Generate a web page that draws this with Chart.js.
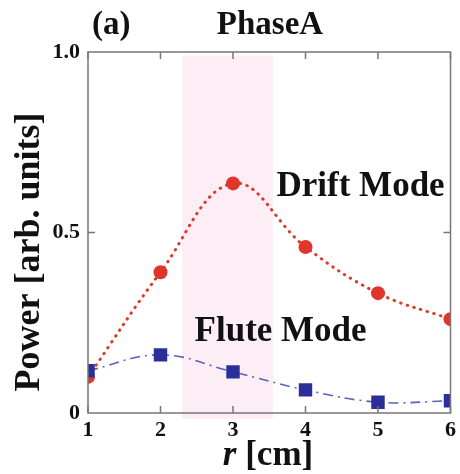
<!DOCTYPE html>
<html>
<head>
<meta charset="utf-8">
<script src="https://cdn.jsdelivr.net/npm/chart.js@4/dist/chart.umd.min.js"></script>
<style>
  html, body { margin: 0; padding: 0; background: #fff; }
  #wrap { width: 460px; height: 474px; }
</style>
</head>
<body>
<div id="wrap"><canvas id="myChart" width="460" height="474"></canvas></div>
<script>
// values
const radius = [1, 2, 3, 4, 5, 6];
const driftPower = [0.10, 0.39, 0.636, 0.46, 0.332, 0.26];
const flutePower = [0.117, 0.161, 0.114, 0.064, 0.030, 0.034];
const yTickValues = [0, 0.5, 1.0];
const yTickLabels = ['0', '0.5', '1.0'];
const bandX = [2.3, 3.55];
const bandY = [-0.017, 0.99];

const serif = "'Liberation Serif', 'Times New Roman', serif";
const frameColor = '#777';

let ctx = document.getElementById('myChart').getContext('2d');

// pink band, frame, inward ticks and text labels
const decorations = {
    id: 'decorations',
    beforeDatasetsDraw(chart) {
        const c = chart.ctx;
        const x = chart.scales.x, y = chart.scales.y;
        c.save();
        c.fillStyle = '#fdedf4';
        const x0 = x.getPixelForValue(bandX[0]), x1 = x.getPixelForValue(bandX[1]);
        const y0 = y.getPixelForValue(bandY[1]), y1 = y.getPixelForValue(bandY[0]);
        c.fillRect(x0, y0, x1 - x0, y1 - y0);
        c.restore();
    },
    afterDatasetsDraw(chart) {
        const c = chart.ctx;
        const a = chart.chartArea;
        const x = chart.scales.x, y = chart.scales.y;
        c.save();
        c.strokeStyle = frameColor;
        c.lineWidth = 1.5;
        c.strokeRect(a.left, a.top, a.right - a.left, a.bottom - a.top);
        c.beginPath();
        radius.forEach(v => {
            const px = x.getPixelForValue(v);
            c.moveTo(px, a.bottom); c.lineTo(px, a.bottom - 7);
            c.moveTo(px, a.top); c.lineTo(px, a.top + 7);
        });
        const py = y.getPixelForValue(0.5);
        c.moveTo(a.left, py); c.lineTo(a.left + 7, py);
        c.moveTo(a.right, py); c.lineTo(a.right - 7, py);
        c.stroke();

        c.fillStyle = '#111';
        c.textBaseline = 'middle';
        c.textAlign = 'left';
        c.font = 'bold 35px ' + serif;
        c.fillText('Drift Mode', x.getPixelForValue(3.6), y.getPixelForValue(0.626));
        c.fillText('Flute Mode', x.getPixelForValue(2.47), y.getPixelForValue(0.224));

        // title row
        c.textBaseline = 'alphabetic';
        c.font = 'bold 33px ' + serif;
        c.fillText('(a)', 92, 34);
        c.textAlign = 'center';
        c.fillText('PhaseA', 270, 34);

        // x axis title, italic r
        c.textAlign = 'left';
        c.font = 'italic bold 35px ' + serif;
        const w1 = c.measureText('r ').width;
        c.font = 'bold 35px ' + serif;
        const w2 = c.measureText('[cm]').width;
        const sx = 268 - (w1 + w2) / 2;
        c.font = 'italic bold 35px ' + serif;
        c.fillText('r ', sx, 465);
        c.font = 'bold 35px ' + serif;
        c.fillText('[cm]', sx + w1, 465);

        // y axis title
        c.translate(30, 252);
        c.rotate(-Math.PI / 2);
        c.textAlign = 'center';
        c.textBaseline = 'middle';
        c.font = 'bold 36px ' + serif;
        c.fillText('Power [arb. units]', 0, 0);
        c.restore();
    }
};

const data = {
    labels: radius,
    datasets: [{
        label: 'Flute Mode',
        data: flutePower,
        borderColor: '#5a63b4',
        borderWidth: 1.6,
        borderDash: [10, 5, 2, 5],
        tension: 0.4,
        pointStyle: 'rect',
        pointRadius: 9.5,
        pointBackgroundColor: '#2b2f9c',
        pointBorderColor: '#2b2f9c',
        pointBorderWidth: 0,
    }, {
        label: 'Drift Mode',
        data: driftPower,
        borderColor: '#e0392b',
        borderWidth: 3,
        borderDash: [0.5, 6.5],
        borderCapStyle: 'round',
        tension: 0.4,
        pointStyle: 'circle',
        pointRadius: 7,
        pointBackgroundColor: '#e0352a',
        pointBorderColor: '#e0352a',
        pointBorderWidth: 0,
    }]
};

let myChart = new Chart(ctx, {
    type: 'line',
    data: data,
    plugins: [decorations],
    options: {
        responsive: false,
        animation: false,
        layout: {
            padding: { top: 52, right: 9, left: 0, bottom: 0 }
        },
        scales: {
            x: {
                type: 'linear',
                min: 1,
                max: 6,
                afterFit(scale) { scale.height = 61; },
                afterBuildTicks(scale) { scale.ticks = radius.map(v => ({ value: v })); },
                grid: { display: false, drawTicks: false },
                border: { display: false },
                ticks: {
                    color: '#111',
                    padding: 4,
                    font: { family: serif, size: 22, weight: 'bold' },
                    callback: v => String(v)
                }
            },
            y: {
                min: 0,
                max: 1,
                afterFit(scale) { scale.width = 88; },
                afterBuildTicks(scale) { scale.ticks = yTickValues.map(v => ({ value: v })); },
                grid: { display: false, drawTicks: false },
                border: { display: false },
                ticks: {
                    color: '#111',
                    padding: 8,
                    font: { family: serif, size: 22, weight: 'bold' },
                    callback: (v) => yTickLabels[yTickValues.indexOf(v)]
                }
            }
        },
        plugins: {
            tooltip: { enabled: false },
            legend: { display: false }
        }
    }
});
</script>
</body>
</html>
